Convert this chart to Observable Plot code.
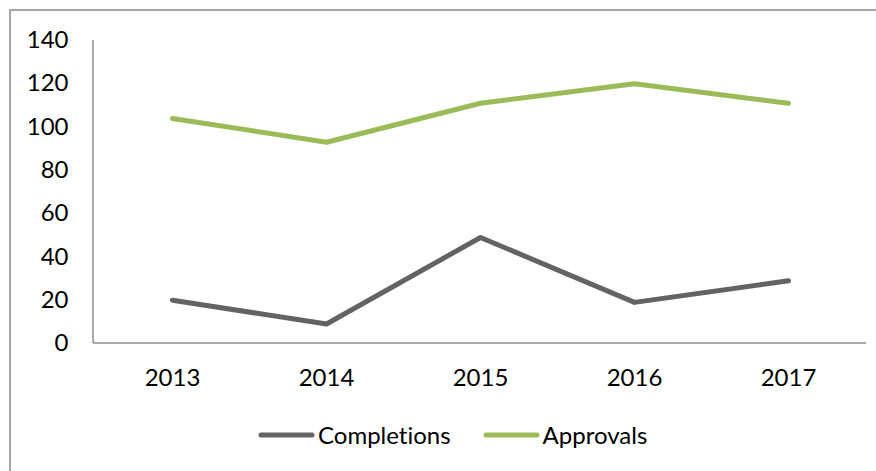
<!DOCTYPE html>
<html>
<head>
<meta charset="utf-8">
<script src="https://cdn.jsdelivr.net/npm/d3@7"></script>
<script src="https://cdn.jsdelivr.net/npm/@observablehq/plot@0.6"></script>
<style>
  html, body { margin: 0; padding: 0; background: #fff; }
  #wrap { position: relative; width: 876px; height: 471px; overflow: hidden; font-family: Lato, "Open Sans", sans-serif; font-variant-ligatures: none; font-feature-settings: "liga" 0, "dlig" 0; }
  #border { position: absolute; left: 9px; top: 9px; width: 900px; height: 500px; border-left: 2px solid #a6a6a6; border-top: 2px solid #a6a6a6; box-sizing: border-box; }
  #chart { position: absolute; left: 0; top: 0; }
  #legend { position: absolute; left: 258px; top: 420px; display: flex; align-items: center; font-size: 24px; color: #000; }
  .item { display: flex; align-items: center; margin-right: 32px; }
  .item svg { margin-right: 3px; }
</style>
</head>
<body>
<div id="wrap">
  <div id="border"></div>
  <div id="chart"></div>
  <div id="legend"></div>
</div>
<script>
const years = ["2013", "2014", "2015", "2016", "2017"];
const completions = [20, 9, 49, 19, 29];
const approvals = [104, 93, 111, 120, 111];
const seriesNames = ["Completions", "Approvals"];
const seriesColors = ["#636363", "#9bbb59"];
const yTicks = [0, 20, 40, 60, 80, 100, 120, 140];

const data = [];
years.forEach((y, i) => {
  data.push({year: y, value: completions[i], series: seriesNames[0]});
  data.push({year: y, value: approvals[i], series: seriesNames[1]});
});

const chart = Plot.plot({
  width: 876,
  height: 400,
  marginLeft: 93,
  marginRight: 10,
  marginTop: 40,
  marginBottom: 57,
  style: {fontFamily: "Lato, 'Open Sans', sans-serif", fontSize: "24px", color: "#000", background: "transparent"},
  x: {type: "point", domain: years, padding: 0.5, label: null},
  y: {domain: [0, 140], label: null},
  color: {domain: seriesNames, range: seriesColors},
  marks: [
    Plot.axisY({ticks: yTicks, tickSize: 0, tickPadding: 25, fontSize: 24, label: null}),
    Plot.axisX({tickSize: 0, tickPadding: 25, fontSize: 24, label: null}),
    Plot.line(data, {x: "year", y: "value", stroke: "series", strokeWidth: 5, strokeLinecap: "round", strokeLinejoin: "round"})
  ]
});
document.getElementById("chart").appendChild(chart);

// axis lines drawn along the frame edges
const svg = d3.select(chart);
const ysc = chart.scale("y");
const y0 = ysc.apply(0), yTop = ysc.apply(140);
svg.append("line").attr("x1", 93).attr("x2", 93).attr("y1", yTop).attr("y2", y0).attr("stroke", "#8c8c8c").attr("stroke-width", 1.5);
svg.append("line").attr("x1", 93).attr("x2", 866).attr("y1", y0).attr("y2", y0).attr("stroke", "#8c8c8c").attr("stroke-width", 1.5);

const legend = document.getElementById("legend");
seriesNames.forEach((name, i) => {
  const item = document.createElement("div");
  item.className = "item";
  item.innerHTML = `<svg width="57" height="10"><line x1="3" x2="54" y1="5" y2="5" stroke="${seriesColors[i]}" stroke-width="5" stroke-linecap="round"/></svg><span>${name}</span>`;
  legend.appendChild(item);
});
</script>
</body>
</html>
